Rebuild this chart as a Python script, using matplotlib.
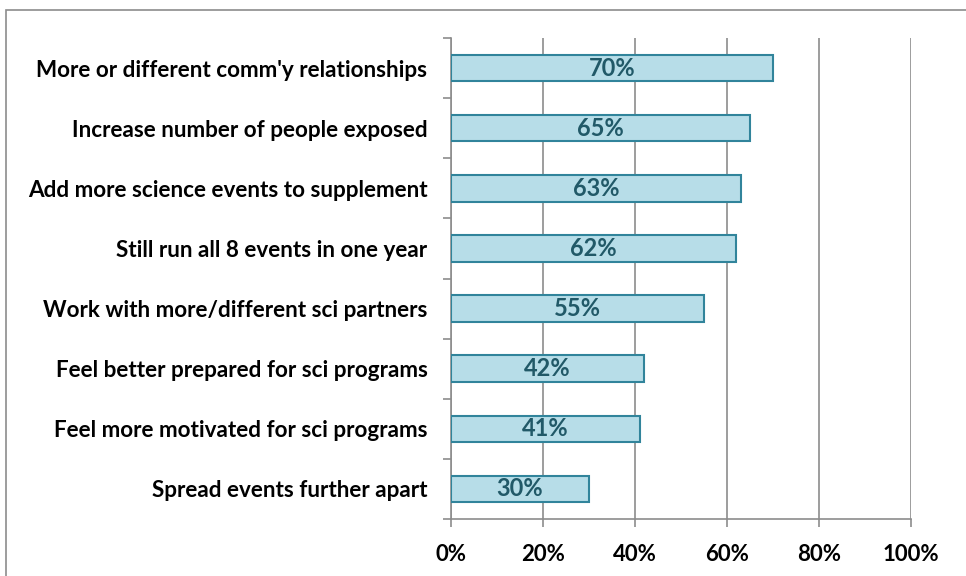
import matplotlib.pyplot as plt
import numpy as np
from matplotlib.patches import Rectangle

# 항목과 값 (위에서 아래 순서)
categories = [
    "More or different comm'y relationships",
    "Increase number of people exposed",
    "Add more science events to supplement",
    "Still run all 8 events in one year",
    "Work with more/different sci partners",
    "Feel better prepared for sci programs",
    "Feel more motivated for sci programs",
    "Spread events further apart",
]
values = [70, 65, 63, 62, 55, 42, 41, 30]
x_ticks = [0, 20, 40, 60, 80, 100]
x_tick_labels = ["0%", "20%", "40%", "60%", "80%", "100%"]

plt.rcParams['font.family'] = ['Lato', 'DejaVu Sans']

fig = plt.figure(figsize=(9.66, 5.76), dpi=100)
# 바깥 테두리
fig.patches.append(Rectangle((6 / 966, -0.1), 1.2, (576 - 10) / 576 + 0.1,
                             transform=fig.transFigure, fill=False,
                             edgecolor='#8c8c8c', linewidth=1.2))

ax = fig.add_axes([451 / 966, (576 - 519) / 576, 460 / 966, (519 - 38) / 576])

n = len(categories)
y = np.arange(n)[::-1]
ax.barh(y, values, height=0.44, color='#b7dde8', edgecolor='#31849b',
        linewidth=1.5, zorder=3)
for yi, v in zip(y, values):
    ax.text(v / 2, yi, f"{v}%", ha='center', va='center', fontsize=17,
            fontweight='bold', color='#215968', zorder=4)

ax.set_xlim(0, 100)
ax.set_ylim(-0.5, n - 0.5)
ax.set_xticks(x_ticks)
ax.set_xticklabels(x_tick_labels, fontsize=16, fontweight='bold')
ax.set_yticks(y)
ax.set_yticklabels(categories, fontsize=16.2, fontweight='bold')
ax.tick_params(axis='y', length=0, pad=17)
ax.set_yticks(np.arange(n + 1) - 0.5, minor=True)
ax.tick_params(axis='y', which='minor', length=6, color='#8c8c8c', width=1.2)
ax.tick_params(axis='x', length=6, color='#8c8c8c', width=1.2, pad=12)
ax.grid(axis='x', color='#8c8c8c', linewidth=1.2, zorder=0)

for s in ['top', 'right']:
    ax.spines[s].set_visible(False)
for s in ['left', 'bottom']:
    ax.spines[s].set_color('#8c8c8c')
    ax.spines[s].set_linewidth(1.2)

plt.savefig('out.png', dpi=100)
